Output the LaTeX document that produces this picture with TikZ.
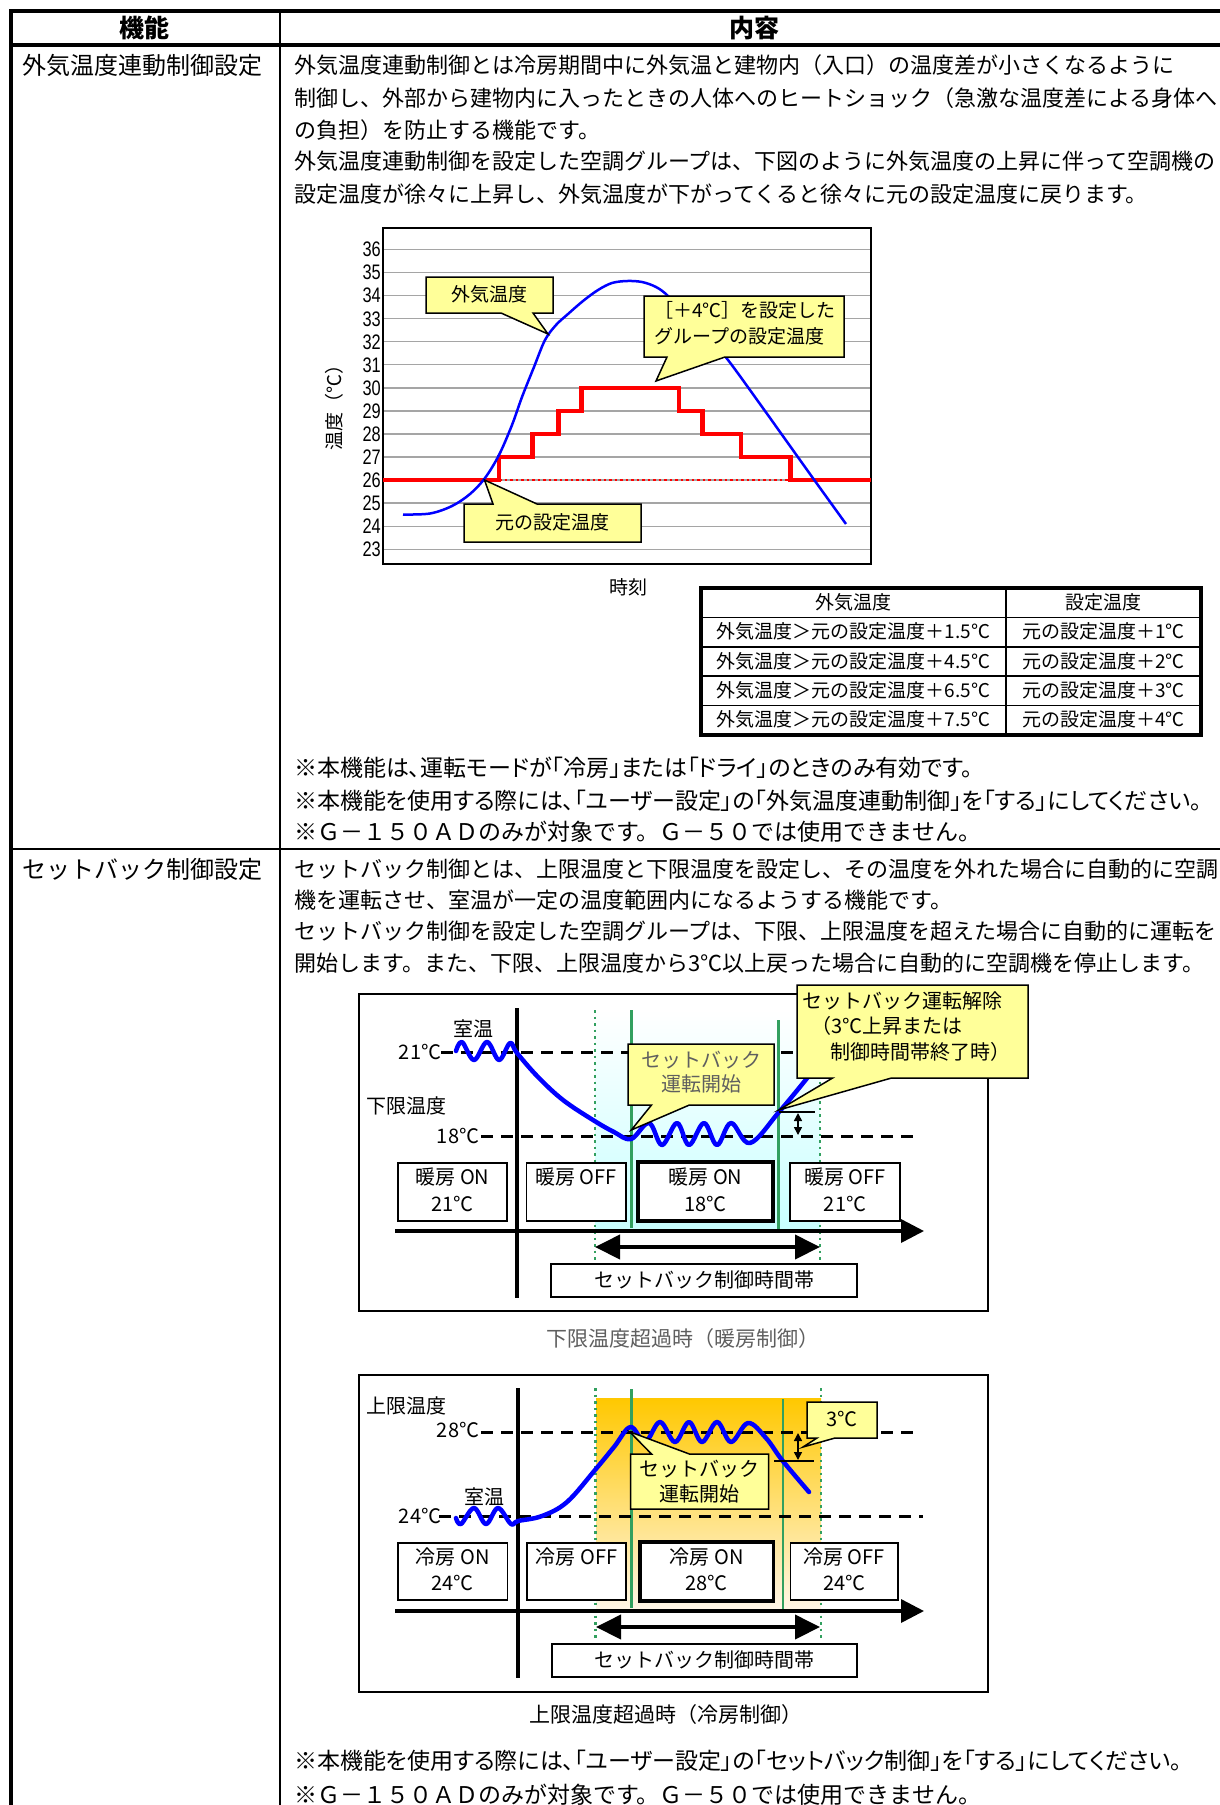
\documentclass[tikz,border=0pt]{standalone}
\usepackage{fontspec}
\setmainfont{Noto Sans CJK JP}
\newfontfamily\condf{Liberation Sans}[FakeStretch=0.78]
\newfontfamily\jpp{Noto Sans CJK JP}[RawFeature=+palt]
\usetikzlibrary{arrows.meta}
\definecolor{cyel}{RGB}{255,255,153}
\definecolor{gridg}{RGB}{165,165,165}
\definecolor{grn}{RGB}{50,160,95}
\definecolor{bl}{RGB}{0,0,255}
\definecolor{rd}{RGB}{255,0,0}
\definecolor{cyl}{RGB}{200,255,255}
\definecolor{gold}{RGB}{255,200,0}
\definecolor{goldm}{RGB}{255,222,140}
\definecolor{cream}{RGB}{255,246,232}
\definecolor{txtgray}{RGB}{95,95,95}
\tikzset{
  f24/.style={inner sep=0pt, font=\fontsize{24pt}{28pt}\selectfont, text height=20.2pt, text depth=3.8pt},
  f23/.style={inner sep=0pt, font=\fontsize{23pt}{27pt}\selectfont, text height=19.3pt, text depth=3.7pt},
  f22/.style={inner sep=0pt, font=\fontsize{22pt}{26pt}\selectfont, text height=18.5pt, text depth=3.5pt},
  note/.style={inner sep=0pt, font=\fontsize{23pt}{27pt}\jpp, text height=19.3pt, text depth=3.7pt},
  hdr/.style={inner sep=0pt, font=\fontsize{25pt}{29pt}\selectfont\bfseries, text height=21pt, text depth=4pt},
  f21/.style={inner sep=0pt, font=\fontsize{21pt}{25pt}\selectfont, text height=17.6pt, text depth=3.4pt},
  f20/.style={inner sep=0pt, font=\fontsize{20pt}{24pt}\selectfont, text height=16.8pt, text depth=3.2pt},
  f19/.style={inner sep=0pt, font=\fontsize{19pt}{23pt}\selectfont, text height=16pt, text depth=3pt},
  num/.style={inner sep=0pt, font=\fontsize{21pt}{24pt}\condf, text height=15pt, text depth=0pt},
  callout/.style={fill=cyel, draw=black, line width=1.5pt, line join=miter},
  plainbox/.style={fill=white, draw=black, line width=1.5pt},
  thickbox/.style={fill=white, draw=black, line width=3.5pt},
  gline/.style={grn, line width=2.5pt},
  gdot/.style={grn, line width=2.5pt, dash pattern=on 2.5pt off 4pt},
  bdash/.style={black, line width=3pt, dash pattern=on 12pt off 8pt},
  blueline/.style={bl, line width=4.5pt, line cap=round, line join=round},
  bigarrow/.style={line width=4pt, {Triangle[length=25pt,width=24pt]}-{Triangle[length=25pt,width=24pt]}},
  timeaxis/.style={line width=3.5pt, -{Triangle[length=23pt,width=23pt]}},
  smallarrow/.style={line width=1.5pt, {Triangle[length=8pt,width=8pt]}-{Triangle[length=8pt,width=8pt]}}
}
\begin{document}
\begin{tikzpicture}[x=1pt,y=-1pt]
\useasboundingbox (0,0) rectangle (1220,1805);
\clip (0,0) rectangle (1220,1805);
\fill[white] (0,0) rectangle (1220,1805);

% ================= table frame
\draw[line width=1.5pt] (280,11) -- (280,1810);
\draw[line width=1.5pt] (11,849) -- (1230,849);
\draw[line width=3.5pt] (11,45) -- (1230,45);
\draw[line width=4pt] (11,1810) -- (11,11) -- (1230,11);

\node[hdr] (hA) at (144,29) {機能};
\node[hdr] (hB) at (754,29) {内容};

\node[f24, anchor=west] (r1) at (22,66) {外気温度連動制御設定};
\node[f24, anchor=west] (r2) at (22,870) {セットバック制御設定};

% ================= row 1 text
\node[f22, anchor=west] (a1) at (294,65.6) {外気温度連動制御とは冷房期間中に外気温と建物内（入口）の温度差が小さくなるように};
\node[f22, anchor=west] (a2) at (294,99) {制御し、外部から建物内に入ったときの人体へのヒートショック（急激な温度差による身体へ};
\node[f22, anchor=west] (a3) at (294,131.2) {の負担）を防止する機能です。};
\node[f22, anchor=west] (a4) at (294,162.3) {外気温度連動制御を設定した空調グループは、下図のように外気温度の上昇に伴って空調機の};
\node[f22, anchor=west] (a5) at (294,194.5) {設定温度が徐々に上昇し、外気温度が下がってくると徐々に元の設定温度に戻ります。};

% ================= chart 1
\foreach \t in {23,...,36} {
  \draw[gridg, line width=1.5pt] (383,{249.3+(36-\t)*23.08}) -- (871,{249.3+(36-\t)*23.08});
  \node[num, anchor=east] at (381,{249.3+(36-\t)*23.08}) {\t};
}
\draw[line width=1.5pt] (383,228) rectangle (871,564);
\node[f19, rotate=90] (ylab) at (335,403) {温度（℃）};
\node[f19] (xlab) at (628,588) {時刻};

\draw[rd, line width=2.5pt, dash pattern=on 2.5pt off 3pt] (499,480.1) -- (790.6,480.1);
\draw[rd, line width=4.5pt, line join=miter] (383,480.1) -- (499,480.1) -- (499,457) -- (532.3,457) -- (532.3,434) -- (558.3,434) -- (558.3,410.9) -- (581.3,410.9) -- (581.3,387.8) -- (678.9,387.8) -- (678.9,410.9) -- (702.6,410.9) -- (702.6,434) -- (740.9,434) -- (740.9,457) -- (790.6,457) -- (790.6,480.1) -- (871,480.1);

\draw[bl, line width=2.5pt] plot[smooth, tension=0.55] coordinates {(403,514.5) (430,513.5) (452,506) (470,494) (485,478) (499,455) (512,425) (522,397) (534,367) (545,340) (556,325) (568,314) (583,301) (598,290) (612,283) (627,281) (642,282) (656,287) (668,296) (690,320) (710,340) (728,360) (760,404) (790,446) (815,481) (846,524)};

\draw[callout] (426,277) -- (553,277) -- (553,313) -- (533,313) -- (548,334) -- (501,313) -- (426,313) -- cycle;
\node[f19] (c1) at (489.5,295) {外気温度};
\draw[callout] (644,296) -- (844,296) -- (844,357) -- (725,357) -- (656,381) -- (667,357) -- (644,357) -- cycle;
\node[f19, anchor=west] (c2a) at (654,311) {［＋4℃］を設定した};
\node[f19, anchor=west] (c2b) at (654,337) {グループの設定温度};
\draw[callout] (464,504) -- (493,504) -- (484.5,480) -- (537,504) -- (641,504) -- (641,542) -- (464,542) -- cycle;
\node[f19] (c3) at (552.5,523) {元の設定温度};

% ================= table 2
\draw[line width=1.5pt] (701,617.4) -- (1201,617.4) (701,646.8) -- (1201,646.8) (701,676.2) -- (1201,676.2) (701,705.6) -- (1201,705.6) (1006,588) -- (1006,735);
\draw[line width=3.5pt] (701,588) rectangle (1201,735);
\node[f19] (t0a) at (853.5,603) {外気温度};
\node[f19] (t0b) at (1103.5,603) {設定温度};
\node[f19] (t1a) at (853.5,632.1) {外気温度＞元の設定温度＋1.5℃};
\node[f19] (t1b) at (1103.5,632.1) {元の設定温度＋1℃};
\node[f19] (t2a) at (853.5,661.5) {外気温度＞元の設定温度＋4.5℃};
\node[f19] (t2b) at (1103.5,661.5) {元の設定温度＋2℃};
\node[f19] (t3a) at (853.5,690.9) {外気温度＞元の設定温度＋6.5℃};
\node[f19] (t3b) at (1103.5,690.9) {元の設定温度＋3℃};
\node[f19] (t4a) at (853.5,720.3) {外気温度＞元の設定温度＋7.5℃};
\node[f19] (t4b) at (1103.5,720.3) {元の設定温度＋4℃};

\node[note, anchor=west] (n1) at (294,769) {※本機能は、運転モードが「冷房」または「ドライ」のときのみ有効です。};
\node[note, anchor=west] (n2) at (294,802) {※本機能を使用する際には、「ユーザー設定」の「外気温度連動制御」を「する」にしてください。};
\node[f23, anchor=west] (n3) at (294,833) {※Ｇ－１５０ＡＤのみが対象です。Ｇ－５０では使用できません。};

% ================= row 2 text
\node[f22, anchor=west] (b1) at (294,870) {セットバック制御とは、上限温度と下限温度を設定し、その温度を外れた場合に自動的に空調};
\node[f22, anchor=west] (b2) at (294,901) {機を運転させ、室温が一定の温度範囲内になるようする機能です。};
\node[f22, anchor=west] (b3) at (294,932) {セットバック制御を設定した空調グループは、下限、上限温度を超えた場合に自動的に運転を};
\node[f22, anchor=west] (b4) at (294,964) {開始します。また、下限、上限温度から3℃以上戻った場合に自動的に空調機を停止します。};

% ================= heating diagram
\draw[line width=1.5pt] (359,994) rectangle (988,1311);
\shade[top color=white, bottom color=cyl] (595,1010) rectangle (820,1231);
\draw[gdot] (595,1010) -- (595,1260);
\draw[gdot] (820,1010) -- (820,1260);
\draw[gline] (631.3,1010) -- (631.3,1228);
\draw[gline] (778.7,1020) -- (778.7,1233);
\draw[bdash] (441,1052) -- (803,1052);
\draw[bdash] (481,1136) -- (919,1136);
\draw[line width=3.5pt] (517,1008) -- (517,1298);
\draw[timeaxis] (395,1231) -- (924,1231);
\node[f20] (h21) at (420,1053) {21℃};
\node[f20] (h18) at (458,1137) {18℃};
\node[f20] (hrt) at (473,1030) {室温};
\node[f20, anchor=west] (hlow) at (366,1107) {下限温度};

\draw[plainbox] (398,1163) rectangle (507,1221);
\node[f20] at (452.5,1178) {暖房 ON};
\node[f20] at (452.5,1205) {21℃};
\draw[plainbox] (526.5,1163) rectangle (626,1221);
\node[f20] at (576,1178) {暖房 OFF};
\draw[thickbox] (638,1162) rectangle (773,1221);
\node[f20] at (705.5,1178) {暖房 ON};
\node[f20] at (705.5,1205) {18℃};
\draw[plainbox] (790,1163) rectangle (900,1221);
\node[f20] at (845,1178) {暖房 OFF};
\node[f20] at (845,1205) {21℃};

\draw[blueline] plot[smooth, tension=0.6] coordinates {(456,1051) (462,1042) (474,1060) (487,1042) (499,1060) (510,1043) (517,1053) (538,1077) (563,1100) (593,1120) (614,1132) (631,1139) (649,1123) (662,1145) (677,1123) (689,1145) (704,1123) (717,1145) (731,1123) (750,1143) (779,1112) (808,1077)};

\draw[line width=1.5pt] (779,1112) -- (815,1112);
\draw[smallarrow] (798,1113) -- (798,1135);

\draw[bigarrow] (595,1247) -- (820,1247);
\draw[plainbox] (551,1264) rectangle (857,1297);
\node[f20] (hzone) at (704,1280.5) {セットバック制御時間帯};

\draw[callout] (628,1044) -- (774,1044) -- (774,1105) -- (689.4,1105) -- (631.3,1130) -- (651.5,1105) -- (628,1105) -- cycle;
\node[f20, text=txtgray] (hc1) at (701,1061) {セットバック};
\node[f20, text=txtgray] (hc2) at (701,1085) {運転開始};
\draw[callout] (797,985) -- (1028,985) -- (1028,1078) -- (891.5,1078) -- (778.7,1110) -- (832.6,1078) -- (797,1078) -- cycle;
\node[f20, anchor=west] (hd1) at (802,1002) {セットバック運転解除};
\node[f20, anchor=west] (hd2) at (811,1027) {（3℃上昇または};
\node[f20, anchor=west] (hd3) at (830,1053) {制御時間帯終了時）};

\node[f21, text=txtgray] (cap1) at (683,1339) {下限温度超過時（暖房制御）};

% ================= cooling diagram
\draw[line width=1.5pt] (359,1375) rectangle (988,1692);
\shade[top color=gold, middle color=goldm, bottom color=cream] (596,1398) rectangle (821,1610);
\draw[gdot] (595.5,1388) -- (595.5,1640);
\draw[gdot] (821,1388) -- (821,1640);
\draw[gline] (631.7,1389) -- (631.7,1608);
\draw[gline] (783,1399) -- (783,1613);
\draw[bdash] (481,1432) -- (919,1432);
\draw[bdash] (439,1516) -- (923,1516);
\draw[line width=3.5pt] (518,1388) -- (518,1678);
\draw[timeaxis] (395,1611) -- (924,1611);
\node[f20, anchor=west] (chigh) at (366,1407) {上限温度};
\node[f20] (c28) at (458,1431) {28℃};
\node[f20] (c24) at (420,1517) {24℃};
\node[f20] (crt) at (484,1498) {室温};

\draw[plainbox] (398,1543) rectangle (507.6,1600);
\node[f20] at (452.8,1558) {冷房 ON};
\node[f20] at (452.8,1584) {24℃};
\draw[plainbox] (527,1543) rectangle (626,1600);
\node[f20] at (576.5,1558) {冷房 OFF};
\draw[thickbox] (640,1542) rectangle (773.6,1601);
\node[f20] at (706.8,1558) {冷房 ON};
\node[f20] at (706.8,1584) {28℃};
\draw[plainbox] (790.5,1543) rectangle (898,1600);
\node[f20] at (844.2,1558) {冷房 OFF};
\node[f20] at (844.2,1584) {24℃};

\draw[blueline] plot[smooth, tension=0.6] coordinates {(456,1518) (461,1524) (474,1508) (486,1524) (498,1508) (511,1524) (518,1521) (542,1516) (567,1502) (595,1470) (614,1447) (630.5,1427) (645,1442) (660,1422) (675,1442) (689,1422) (702,1442) (717,1422) (731,1442) (748,1423) (766,1438) (782,1460) (809,1492)};

\draw[line width=1.5pt] (774,1461) -- (814,1461);
\draw[smallarrow] (798,1433) -- (798,1460);

\draw[bigarrow] (596,1627) -- (820,1627);
\draw[plainbox] (552,1644) rectangle (857,1677);
\node[f20] (czone) at (704.5,1660.5) {セットバック制御時間帯};

\draw[callout] (807,1402) -- (877,1402) -- (877,1438) -- (835,1438) -- (803,1447) -- (817,1438) -- (807,1438) -- cycle;
\node[f20] (c3c) at (842,1420) {3℃};
\draw[callout] (630.5,1454) -- (651.5,1454) -- (629.6,1431.7) -- (689.4,1454) -- (768.6,1454) -- (768.6,1509) -- (630.5,1509) -- cycle;
\node[f20] (cc1) at (699.5,1470) {セットバック};
\node[f20] (cc2) at (699.5,1495) {運転開始};

\node[f21] (cap2) at (666,1715) {上限温度超過時（冷房制御）};

\node[note, anchor=west] (m1) at (294,1762) {※本機能を使用する際には、「ユーザー設定」の「セットバック制御」を「する」にしてください。};
\node[f23, anchor=west] (m2) at (294,1796) {※Ｇ－１５０ＡＤのみが対象です。Ｇ－５０では使用できません。};
\end{tikzpicture}
\end{document}
